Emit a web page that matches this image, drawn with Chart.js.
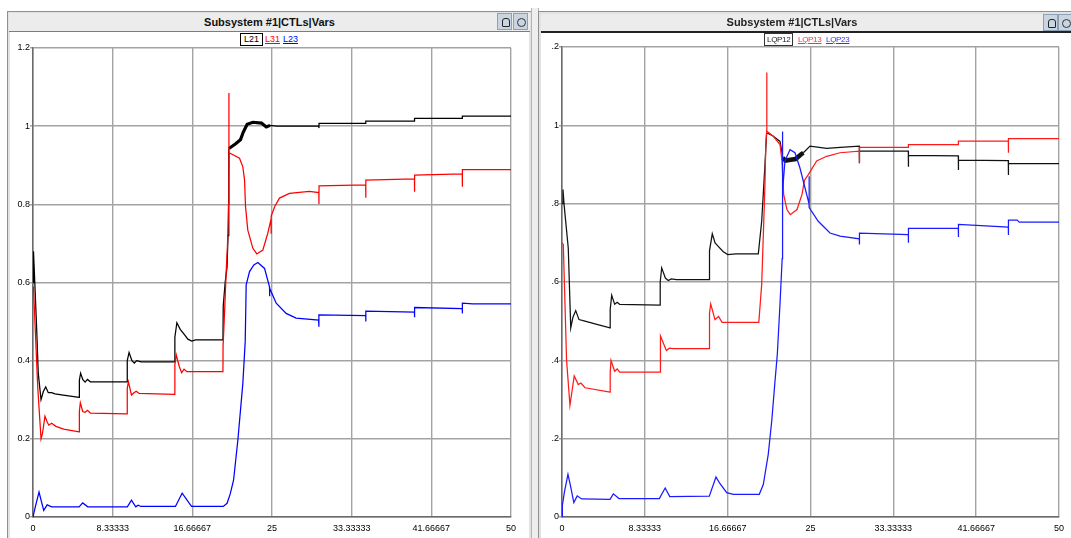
<!DOCTYPE html>
<html>
<head>
<meta charset="utf-8">
<script src="https://cdn.jsdelivr.net/npm/chart.js@4.4.1/dist/chart.umd.min.js"></script>
<style>
  html, body { margin: 0; padding: 0; background: #fff; }
  body { width: 1071px; height: 538px; position: relative; overflow: hidden; font-family: "Liberation Sans", Arial, sans-serif; }
  .abs { position: absolute; }
  .frame { border: 1px solid #8f8f8f; box-shadow: inset 0 0 0 2px #e2e2e2; background: #fff; }
  .title { background: #ececec; font-weight: bold; font-size: 11px; line-height: 18px; color: #111; }
  .icon { width: 15px; height: 17px; background: #c9d5e1; border: 1px solid #8ea0b3; box-sizing: border-box; }
  .legend span { position: absolute; font-size: 9px; line-height: 11px; top: 34px; }
  canvas { position: absolute; }
  .soft { filter: blur(0.35px); }
</style>
</head>
<body>
<!-- left panel chrome -->
<div class="abs frame" style="left:7px;top:11px;width:523px;height:540px;"></div>
<div class="abs title" style="left:9px;top:13px;width:521px;height:18px;border-bottom:1px solid #7c7c7c;text-align:center;">Subsystem #1|CTLs|Vars</div>
<div class="abs icon" style="left:497px;top:13px;"><div class="abs" style="left:4px;top:4px;width:6px;height:7px;border:1px solid #222;border-radius:3px 3px 1px 1px;"></div></div>
<div class="abs icon" style="left:513px;top:13px;"><div class="abs" style="left:3px;top:4px;width:7px;height:7px;border:1px solid #333;border-radius:50%;"></div></div>
<div class="legend">
  <span style="left:240px;top:33px;border:1px solid #000;padding:0 3px;color:#000;">L21</span>
  <span style="left:265px;color:#f00;text-decoration:underline;">L31</span>
  <span style="left:283px;color:#00f;text-decoration:underline;">L23</span>
</div>
<canvas id="c1" style="left:12px;top:33px;" width="510" height="505"></canvas>

<!-- separator -->
<div class="abs" style="left:531px;top:8px;width:6px;height:540px;border-left:1px solid #b5b5b5;border-right:1px solid #b5b5b5;background:#eee;"></div>

<!-- right panel chrome -->
<div class="abs frame" style="left:538px;top:11px;width:540px;height:540px;"></div>
<div class="abs title soft" style="left:541px;top:14px;width:540px;height:17px;border-bottom:2px solid #222;"></div>
<div class="abs soft" style="left:692px;top:14px;width:200px;text-align:center;font-weight:bold;font-size:11px;line-height:17px;color:#222;">Subsystem #1|CTLs|Vars</div>
<div class="abs icon soft" style="left:1043px;top:14px;"><div class="abs" style="left:4px;top:4px;width:6px;height:7px;border:1px solid #222;border-radius:3px 3px 1px 1px;"></div></div>
<div class="abs icon soft" style="left:1058px;top:14px;"><div class="abs" style="left:3px;top:4px;width:7px;height:7px;border:1px solid #333;border-radius:50%;"></div></div>
<div class="legend soft">
  <span style="left:764px;top:33px;border:1px solid #333;padding:0 2px;color:#222;font-size:8px;letter-spacing:-0.3px;">LQP12</span>
  <span style="left:798px;color:#f33;font-size:8px;letter-spacing:-0.3px;text-decoration:underline;">LQP13</span>
  <span style="left:826px;color:#33f;font-size:8px;letter-spacing:-0.3px;text-decoration:underline;">LQP23</span>
</div>
<canvas id="c2" class="soft" style="left:552px;top:33px;" width="519" height="505"></canvas>

<script>
// axis ticks (shared by both charts)
const xTicks = [0, 8.33333, 16.66667, 25, 33.33333, 41.66667, 50];
const xTickLabels = ["0", "8.33333", "16.66667", "25", "33.33333", "41.66667", "50"];
const yTicks = [0, 0.2, 0.4, 0.6, 0.8, 1, 1.2];
const yTickLabels = ["0", "0.2", "0.4", "0.6", "0.8", "1", "1.2"];

// left chart: L21
const l21T = [0, 0.05, 0.12, 0.39, 0.55, 0.84, 1.08, 1.33, 1.6, 1.95, 2.3, 3.16, 4.83,
  4.85, 4.98, 5.2, 5.45, 5.7, 6.0, 9.84,
  9.86, 10.05, 10.35, 10.6, 10.85, 11.3, 14.82,
  14.84, 15.05, 15.4, 15.8, 16.2, 16.6, 17.0, 19.87,
  19.9, 20.1, 20.3, 20.4, 20.46, 20.5,
  21.2, 21.7, 22.0, 22.4, 23.0, 23.9, 24.4, 24.8, 25.5, 29.9,
  29.91, 29.92, 34.8, 34.81, 39.9, 39.91, 44.9, 44.91, 50];
const l21V = [0.60, 0.68, 0.64, 0.478, 0.368, 0.30, 0.321, 0.333, 0.318, 0.318, 0.315, 0.312, 0.306,
  0.35, 0.368, 0.352, 0.345, 0.352, 0.346, 0.346,
  0.40, 0.421, 0.400, 0.394, 0.400, 0.397, 0.397,
  0.46, 0.497, 0.480, 0.468, 0.455, 0.450, 0.453, 0.453,
  0.54, 0.60, 0.64, 0.72, 0.85, 0.943,
  0.955, 0.965, 0.985, 1.005, 1.010, 1.008, 0.998, 1.002, 1.0, 1.0,
  0.995, 1.007, 1.007, 1.013, 1.013, 1.020, 1.020, 1.026, 1.026];

// left chart: L31
const l31T = [0, 0.05, 0.2, 0.5, 0.84, 1.0, 1.25, 1.45, 1.65, 1.95, 2.4, 3.2, 4.83,
  4.85, 4.95, 5.2, 5.45, 5.7, 6.0, 9.84,
  9.86, 9.98, 10.3, 10.55, 10.8, 11.1, 14.82,
  14.84, 14.98, 15.3, 15.55, 15.8, 16.1, 19.87,
  19.88, 20.05, 20.2, 20.35, 20.45, 20.48, 20.5, 20.5, 20.5, 20.52,
  21.6, 21.95, 22.13, 22.23, 22.47, 22.99, 23.41, 24.04, 24.56, 24.9, 24.91, 24.92, 25.3, 25.78, 26.83, 28.9, 29.9,
  29.91, 29.92, 34.8, 34.81, 34.82, 39.9, 39.91, 39.92, 44.9, 44.91, 44.92, 50];
const l31V = [0.58, 0.59, 0.50, 0.33, 0.20, 0.215, 0.258, 0.245, 0.235, 0.240, 0.232, 0.225, 0.218,
  0.27, 0.292, 0.270, 0.268, 0.273, 0.266, 0.264,
  0.33, 0.346, 0.312, 0.318, 0.322, 0.316, 0.314,
  0.39, 0.415, 0.385, 0.369, 0.378, 0.372, 0.372,
  0.436, 0.53, 0.624, 0.70, 0.80, 0.862, 0.932, 1.085, 0.862, 0.932,
  0.918, 0.896, 0.862, 0.794, 0.734, 0.688, 0.673, 0.683, 0.726, 0.762, 0.725, 0.770, 0.795, 0.816, 0.828, 0.833, 0.830,
  0.801, 0.847, 0.850, 0.817, 0.862, 0.865, 0.832, 0.875, 0.878, 0.845, 0.889, 0.889];

// left chart: L23
const l23T = [0, 0.04, 0.26, 0.63, 1.12, 1.48, 1.95, 4.82, 5.2, 5.73, 9.87, 10.3, 10.75, 11.0, 11.27,
  14.9, 15.6, 16.58, 19.9, 20.3, 20.63, 20.98, 21.43, 21.95, 22.2, 22.3, 22.65, 23.1, 23.52, 24.22,
  24.74, 24.75, 24.76, 25.44, 26.48, 27.52, 29.88, 29.9, 29.91, 34.8, 34.81, 34.82, 39.9, 39.91, 39.92,
  44.9, 44.91, 44.92, 46, 50];
const l23V = [0, 0.005, 0.028, 0.064, 0.017, 0.031, 0.026, 0.026, 0.036, 0.026, 0.026, 0.043, 0.026, 0.030, 0.027,
  0.027, 0.061, 0.027, 0.027, 0.035, 0.059, 0.094, 0.197, 0.342, 0.45, 0.594, 0.628, 0.645, 0.651, 0.636,
  0.589, 0.565, 0.585, 0.547, 0.521, 0.509, 0.504, 0.487, 0.517, 0.515, 0.500, 0.527, 0.524, 0.511, 0.536,
  0.533, 0.521, 0.547, 0.545, 0.545];

// right chart: LQP12
const lqp12T = [0, 0.1, 0.2, 0.63, 0.88, 1.1, 1.38, 1.71, 2.31, 3.5, 4.83,
  4.85, 5.0, 5.3, 5.55, 5.8, 9.86,
  9.88, 10.03, 10.4, 10.69, 11.0, 11.5, 14.82,
  14.84, 15.12, 15.4, 15.72, 16.2, 16.67, 17.5, 19.75,
  20.09, 20.42, 20.59, 21.26, 21.93, 22.1, 22.2, 22.5, 23.0, 23.5, 24.0, 24.28, 24.95, 26.63, 28.0, 29.91,
  29.92, 29.93, 34.84, 34.85, 34.86, 39.87, 39.88, 39.89, 44.9, 44.91, 44.92, 50];
const lqp12V = [0.80, 0.836, 0.80, 0.687, 0.483, 0.51, 0.527, 0.504, 0.500, 0.492, 0.483,
  0.53, 0.566, 0.543, 0.548, 0.543, 0.541,
  0.60, 0.636, 0.610, 0.604, 0.608, 0.606, 0.606,
  0.68, 0.723, 0.700, 0.691, 0.678, 0.670, 0.672, 0.672,
  0.755, 0.90, 0.981, 0.972, 0.959, 0.935, 0.917, 0.910, 0.912, 0.914, 0.925, 0.930, 0.947, 0.941, 0.944, 0.947,
  0.903, 0.934, 0.934, 0.894, 0.923, 0.922, 0.886, 0.911, 0.910, 0.873, 0.902, 0.902];

// right chart: LQP13
const lqp13T = [0, 0.13, 0.46, 0.8, 1.23, 1.64, 1.9, 2.31, 4.83,
  4.85, 4.93, 5.3, 5.55, 5.8, 9.86,
  9.88, 9.93, 10.5, 10.8, 11.2, 14.82,
  14.84, 14.96, 15.39, 15.75, 16.1, 19.8,
  20.09, 20.42, 20.5, 20.59, 20.6, 20.61, 21.26, 21.93, 22.13, 22.3, 22.63, 22.97, 23.64, 24.14, 24.4, 24.78, 25.62, 26.63, 27.97, 29.91,
  29.92, 29.93, 34.84, 34.85, 39.87, 39.88, 44.9, 44.91, 44.92, 50];
const lqp13V = [0.70, 0.696, 0.40, 0.285, 0.360, 0.338, 0.342, 0.330, 0.319,
  0.37, 0.40, 0.372, 0.378, 0.370, 0.370,
  0.44, 0.462, 0.425, 0.431, 0.430, 0.430,
  0.52, 0.544, 0.504, 0.512, 0.497, 0.497,
  0.594, 0.849, 0.95, 0.985, 1.135, 0.985, 0.972, 0.951, 0.909, 0.823, 0.785, 0.772, 0.785, 0.823, 0.860, 0.874, 0.909, 0.921, 0.930, 0.934,
  0.903, 0.944, 0.944, 0.951, 0.951, 0.960, 0.960, 0.930, 0.966, 0.966];

// right chart: LQP23
const lqp23T = [0, 0.04, 0.25, 0.6, 0.85, 1.19, 1.53, 1.98, 4.83, 5.17, 5.73, 9.79, 10.38, 10.84, 14.82,
  15.49, 15.9, 16.57, 17.23, 19.85, 20.25, 20.75, 21.1, 21.43, 21.66, 21.93, 22.15, 22.18, 22.2, 22.43,
  22.94, 23.44, 23.94, 24.45, 24.85, 24.86, 24.87, 25.78, 26.96, 27.97, 29.91, 29.92, 29.93, 34.84, 34.85,
  34.86, 39.87, 39.88, 39.89, 44.9, 44.91, 44.92, 45.8, 46, 50];
const lqp23V = [0, 0.03, 0.065, 0.109, 0.08, 0.037, 0.054, 0.046, 0.045, 0.059, 0.047, 0.047, 0.074, 0.052, 0.053,
  0.102, 0.085, 0.062, 0.058, 0.058, 0.083, 0.160, 0.245, 0.347, 0.415, 0.543, 0.66, 0.984, 0.832, 0.909,
  0.938, 0.930, 0.891, 0.840, 0.80, 0.87, 0.79, 0.755, 0.725, 0.717, 0.710, 0.696, 0.725, 0.721, 0.700,
  0.737, 0.737, 0.715, 0.747, 0.740, 0.72, 0.758, 0.758, 0.753, 0.753];

function pts(t, v) {
  return t.map((x, i) => ({ x: x, y: v[i] }));
}

// line drawn thicker where the simulation rings fast
function thickBetween(a, b, w) {
  return ctx => (ctx.p0.parsed.x >= a && ctx.p1.parsed.x <= b) ? w : undefined;
}

function makeChart(id, datasets, yWidth, padRight, padTop) {
  const font = { family: "Liberation Sans, Arial, sans-serif", size: 9 };
  return new Chart(document.getElementById(id), {
    type: 'line',
    data: { datasets: datasets },
    options: {
      responsive: false,
      animation: false,
      layout: { padding: { left: 0, right: padRight, top: padTop, bottom: 0 } },
      plugins: { legend: { display: false }, tooltip: { enabled: false } },
      elements: { point: { radius: 0 }, line: { tension: 0, borderWidth: 1.25 } },
      scales: {
        x: {
          type: 'linear', min: 0, max: 50,
          afterBuildTicks: s => { s.ticks = xTicks.map(v => ({ value: v })); },
          afterFit: s => { s.height = 21; },
          ticks: { font: font, color: '#000', padding: 6, maxRotation: 0, autoSkip: false,
                   callback: (v, i) => xTickLabels[i] },
          grid: { color: '#a3a3a3', lineWidth: 1.4, drawTicks: false },
          border: { color: '#6a6a6a', width: 1.5 }
        },
        y: {
          min: 0, max: 1.2,
          afterBuildTicks: s => { s.ticks = yTicks.map(v => ({ value: v })); },
          afterFit: s => { s.width = yWidth; },
          ticks: { font: font, color: '#000', padding: 0, callback: (v, i) => yTickLabels[i] },
          grid: { color: '#a3a3a3', lineWidth: 1.4, tickLength: 3 },
          border: { color: '#6a6a6a', width: 1.5 }
        }
      }
    }
  });
}

makeChart('c1', [
  { label: 'L23', data: pts(l23T, l23V), borderColor: '#0000ff' },
  { label: 'L31', data: pts(l31T, l31V), borderColor: '#ff0000' },
  { label: 'L21', data: pts(l21T, l21V), borderColor: '#000000',
    segment: { borderWidth: thickBetween(20.5, 24.8, 3.2) } }
], 21, 10, 15);

makeChart('c2', [
  { label: 'LQP23', data: pts(lqp23T, lqp23V), borderColor: '#1a1aff' },
  { label: 'LQP13', data: pts(lqp13T, lqp13V), borderColor: '#ff1a1a' },
  { label: 'LQP12', data: pts(lqp12T, lqp12V), borderColor: '#111111',
    segment: { borderWidth: thickBetween(22.2, 24.3, 4.5) } }
], 10, 12, 14);
</script>
</body>
</html>
